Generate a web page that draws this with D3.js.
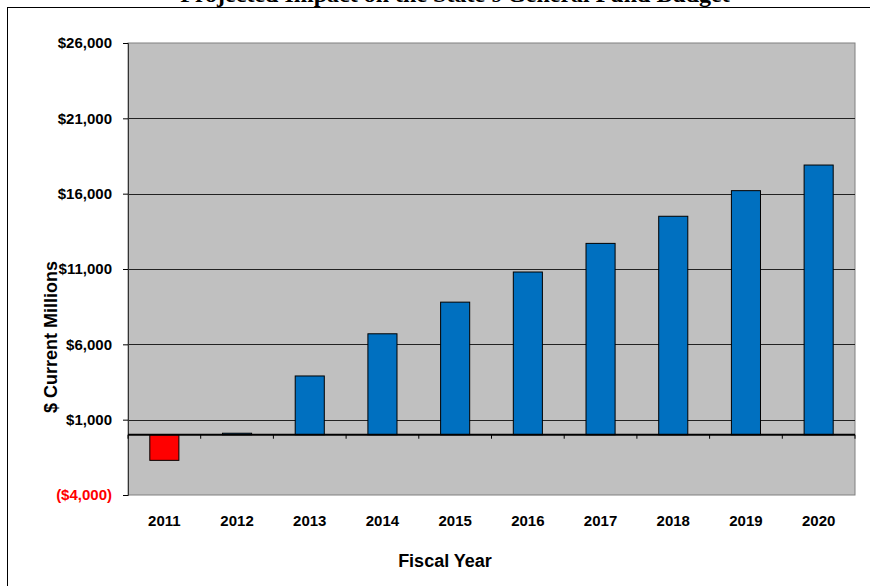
<!DOCTYPE html>
<html><head><meta charset="utf-8">
<script src="https://cdn.jsdelivr.net/npm/d3@7"></script>
<style>html,body{margin:0;padding:0;background:#fff;overflow:hidden}</style>
</head><body>
<svg id="c" width="870" height="586"></svg>
<script>
const years = ["2011","2012","2013","2014","2015","2016","2017","2018","2019","2020"];
const values = [-1700, 100, 3900, 6700, 8800, 10800, 12700, 14500, 16200, 17900];
const yTicks = [-4000, 1000, 6000, 11000, 16000, 21000, 26000];
const titleText = "Projected Impact on the State's General Fund Budget";
const yLabel = "$ Current Millions";
const xLabel = "Fiscal Year";

const svg = d3.select("#c");
const L = 128, R = 855, T = 43, B = 495;

// outer frame
svg.append("rect").attr("x",7.5).attr("y",7.5).attr("width",880).attr("height",600)
  .attr("fill","#fff").attr("stroke","#000").attr("stroke-width",1);

// title (cut off at top)
svg.append("text").attr("x",455).attr("y",1.5).attr("text-anchor","middle")
  .attr("font-family","Liberation Serif, Times New Roman, serif").attr("font-weight","bold")
  .attr("font-size",24).attr("fill","#000").text(titleText);

const x = d3.scaleBand().domain(years).range([L,R]).paddingInner(0.6).paddingOuter(0.3);
const y = d3.scaleLinear().domain([-4000,26000]).range([B,T]);

// plot area
svg.append("rect").attr("x",L).attr("y",T).attr("width",R-L).attr("height",B-T)
  .attr("fill","#c0c0c0").attr("stroke","#808080").attr("stroke-width",1);

// gridlines
svg.append("g").selectAll("line").data(yTicks.filter(v=>v>-4000 && v<26000)).join("line")
  .attr("x1",L).attr("x2",R).attr("y1",d=>Math.round(y(d))+0.5).attr("y2",d=>Math.round(y(d))+0.5)
  .attr("stroke","#222").attr("stroke-width",1.2);

// y axis
const yAxis = d3.axisLeft(y).tickValues(yTicks).tickSize(5).tickPadding(11)
  .tickFormat(d => d < 0 ? "($" + d3.format(",")(-d) + ")" : "$" + d3.format(",")(d));
const gy = svg.append("g").attr("transform",`translate(${L},0)`).call(yAxis);
gy.select(".domain").attr("stroke","#333");
gy.selectAll(".tick line").attr("stroke","#000");
gy.selectAll("text").attr("font-family","Liberation Sans, Arial, sans-serif")
  .attr("font-weight","bold").attr("font-size",15)
  .attr("fill", d => d < 0 ? "#ff0000" : "#000");

// bars
svg.append("g").selectAll("rect").data(years).join("rect")
  .attr("x",d=>x(d)).attr("width",x.bandwidth())
  .attr("y",(d,i)=>y(Math.max(0,values[i])))
  .attr("height",(d,i)=>Math.abs(y(values[i])-y(0)))
  .attr("fill",(d,i)=>values[i]<0?"#ff0000":"#0070c0")
  .attr("stroke","#000").attr("stroke-width",1);

// x axis at zero with ticks at category boundaries
const bounds = years.map((d,i)=>L + i*(R-L)/years.length).concat([R]);
svg.append("line").attr("x1",L).attr("x2",R).attr("y1",y(0)).attr("y2",y(0))
  .attr("stroke","#000").attr("stroke-width",2);
svg.append("g").selectAll("line").data(bounds).join("line")
  .attr("x1",d=>d).attr("x2",d=>d).attr("y1",y(0)).attr("y2",y(0)+4)
  .attr("stroke","#000").attr("stroke-width",1);

// x labels
svg.append("g").selectAll("text").data(years).join("text")
  .attr("x",d=>x(d)+x.bandwidth()/2).attr("y",526).attr("text-anchor","middle")
  .attr("font-family","Liberation Sans, Arial, sans-serif").attr("font-weight","bold")
  .attr("font-size",15).attr("fill","#000").text(d=>d);

// axis titles
svg.append("text").attr("x",445).attr("y",567).attr("text-anchor","middle")
  .attr("font-family","Liberation Sans, Arial, sans-serif").attr("font-weight","bold")
  .attr("font-size",18).attr("fill","#000").text(xLabel);
svg.append("text").attr("transform","translate(57,337) rotate(-90)").attr("text-anchor","middle")
  .attr("font-family","Liberation Sans, Arial, sans-serif").attr("font-weight","bold")
  .attr("font-size",18).attr("fill","#000").text(yLabel);
</script>
</body></html>
